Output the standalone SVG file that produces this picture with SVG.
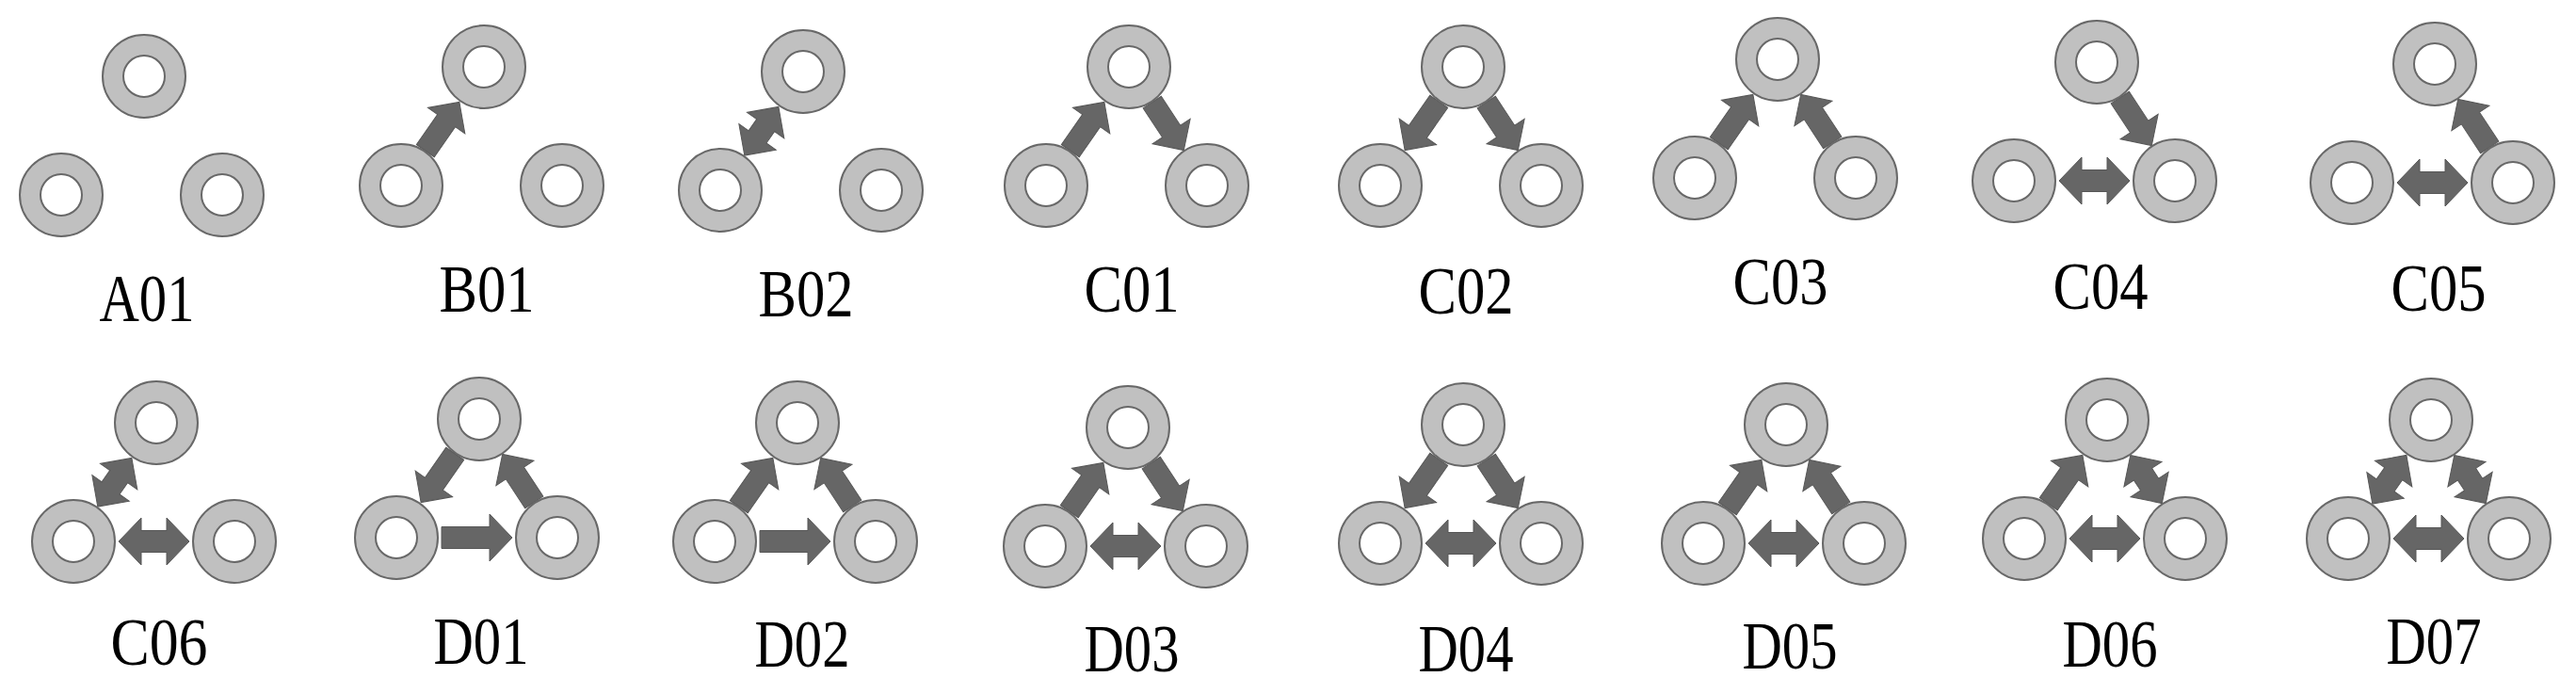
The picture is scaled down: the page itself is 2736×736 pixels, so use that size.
<svg xmlns="http://www.w3.org/2000/svg" xmlns:xlink="http://www.w3.org/1999/xlink" width="2736" height="736" viewBox="0 0 2736 736">
<style>
.outer{fill:#c0c0c0;stroke:#686868;stroke-width:2}
.inner{fill:#ffffff;stroke:#686868;stroke-width:2}
.arr{fill:#666666;stroke:#575757;stroke-width:1}
.lbl{font-family:"Liberation Serif",serif;font-size:72px;fill:#000000;text-anchor:middle}
</style>
<defs>
<g id="ring"><circle r="44" class="outer"/><circle r="22" class="inner"/></g>
<path id="sL" class="arr" d="M0,-11.5H39V-24L63,0L39,24V11.5H0Z"/>
<path id="dL" class="arr" d="M0,0L24,-24V-11.5H39V-24L63,0L39,24V11.5H24V24Z"/>
<path id="sR" class="arr" d="M0,-11.5H37V-24L61,0L37,24V11.5H0Z"/>
<path id="dR" class="arr" d="M0,0L24,-24V-11.5H37V-24L61,0L37,24V11.5H24V24Z"/>
<path id="sH" class="arr" d="M0,-11.5H51V-25L75,0L51,25V11.5H0Z"/>
<path id="dH" class="arr" d="M0,0L24,-25V-11.5H51V-25L75,0L51,25V11.5H24V25Z"/>
</defs>
<rect width="2736" height="736" fill="#ffffff"/>
<g id="connectors">
<g id="B01-edges" transform="translate(514,71)"><use href="#sL" transform="translate(-62.2,89.1) rotate(-55.07)"/></g>
<g id="B02-edges" transform="translate(853,76)"><use href="#dL" transform="translate(-62.2,89.1) rotate(-55.07)"/></g>
<g id="C01-edges" transform="translate(1199,71)"><use href="#sL" transform="translate(-62.2,89.1) rotate(-55.07)"/><use href="#sR" transform="translate(24.75,37.6) rotate(56.63)"/></g>
<g id="C02-edges" transform="translate(1554,71)"><use href="#sL" transform="translate(-25.8,36.9) rotate(124.93)"/><use href="#sR" transform="translate(24.75,37.6) rotate(56.63)"/></g>
<g id="C03-edges" transform="translate(1888,63)"><use href="#sL" transform="translate(-62.2,89.1) rotate(-55.07)"/><use href="#sR" transform="translate(58.25,88.4) rotate(-123.37)"/></g>
<g id="C04-edges" transform="translate(2227,66)"><use href="#sR" transform="translate(24.75,37.6) rotate(56.63)"/><use href="#dH" transform="translate(-40,126)"/></g>
<g id="C05-edges" transform="translate(2586,68)"><use href="#sR" transform="translate(58.25,88.4) rotate(-123.37)"/><use href="#dH" transform="translate(-40,126)"/></g>
<g id="C06-edges" transform="translate(166,449)"><use href="#dL" transform="translate(-62.2,89.1) rotate(-55.07)"/><use href="#dH" transform="translate(-40,126)"/></g>
<g id="D01-edges" transform="translate(509,445)"><use href="#sL" transform="translate(-25.8,36.9) rotate(124.93)"/><use href="#sR" transform="translate(58.25,88.4) rotate(-123.37)"/><use href="#sH" transform="translate(-40,126)"/></g>
<g id="D02-edges" transform="translate(847,449)"><use href="#sL" transform="translate(-62.2,89.1) rotate(-55.07)"/><use href="#sR" transform="translate(58.25,88.4) rotate(-123.37)"/><use href="#sH" transform="translate(-40,126)"/></g>
<g id="D03-edges" transform="translate(1198,454)"><use href="#sL" transform="translate(-62.2,89.1) rotate(-55.07)"/><use href="#sR" transform="translate(24.75,37.6) rotate(56.63)"/><use href="#dH" transform="translate(-40,126)"/></g>
<g id="D04-edges" transform="translate(1554,451)"><use href="#sL" transform="translate(-25.8,36.9) rotate(124.93)"/><use href="#sR" transform="translate(24.75,37.6) rotate(56.63)"/><use href="#dH" transform="translate(-40,126)"/></g>
<g id="D05-edges" transform="translate(1897,451)"><use href="#sL" transform="translate(-62.2,89.1) rotate(-55.07)"/><use href="#sR" transform="translate(58.25,88.4) rotate(-123.37)"/><use href="#dH" transform="translate(-40,126)"/></g>
<g id="D06-edges" transform="translate(2238,446)"><use href="#sL" transform="translate(-62.2,89.1) rotate(-55.07)"/><use href="#dR" transform="translate(24.75,37.6) rotate(56.63)"/><use href="#dH" transform="translate(-40,126)"/></g>
<g id="D07-edges" transform="translate(2582,446)"><use href="#dL" transform="translate(-62.2,89.1) rotate(-55.07)"/><use href="#dR" transform="translate(24.75,37.6) rotate(56.63)"/><use href="#dH" transform="translate(-40,126)"/></g>
</g>
<g id="A01" transform="translate(153,81)"><g id="A01-top"><use href="#ring"/></g><g id="A01-left"><use href="#ring" x="-88" y="126"/></g><g id="A01-right"><use href="#ring" x="83" y="126"/></g><text class="lbl" x="3" y="260" textLength="101" lengthAdjust="spacingAndGlyphs">A01</text></g>
<g id="B01" transform="translate(514,71)"><g id="B01-top"><use href="#ring"/></g><g id="B01-left"><use href="#ring" x="-88" y="126"/></g><g id="B01-right"><use href="#ring" x="83" y="126"/></g><text class="lbl" x="3" y="260" textLength="101" lengthAdjust="spacingAndGlyphs">B01</text></g>
<g id="B02" transform="translate(853,76)"><g id="B02-top"><use href="#ring"/></g><g id="B02-left"><use href="#ring" x="-88" y="126"/></g><g id="B02-right"><use href="#ring" x="83" y="126"/></g><text class="lbl" x="3" y="260" textLength="101" lengthAdjust="spacingAndGlyphs">B02</text></g>
<g id="C01" transform="translate(1199,71)"><g id="C01-top"><use href="#ring"/></g><g id="C01-left"><use href="#ring" x="-88" y="126"/></g><g id="C01-right"><use href="#ring" x="83" y="126"/></g><text class="lbl" x="3" y="260" textLength="101" lengthAdjust="spacingAndGlyphs">C01</text></g>
<g id="C02" transform="translate(1554,71)"><g id="C02-top"><use href="#ring"/></g><g id="C02-left"><use href="#ring" x="-88" y="126"/></g><g id="C02-right"><use href="#ring" x="83" y="126"/></g><text class="lbl" x="3" y="262" textLength="101" lengthAdjust="spacingAndGlyphs">C02</text></g>
<g id="C03" transform="translate(1888,63)"><g id="C03-top"><use href="#ring"/></g><g id="C03-left"><use href="#ring" x="-88" y="126"/></g><g id="C03-right"><use href="#ring" x="83" y="126"/></g><text class="lbl" x="3" y="260" textLength="101" lengthAdjust="spacingAndGlyphs">C03</text></g>
<g id="C04" transform="translate(2227,66)"><g id="C04-top"><use href="#ring"/></g><g id="C04-left"><use href="#ring" x="-88" y="126"/></g><g id="C04-right"><use href="#ring" x="83" y="126"/></g><text class="lbl" x="4" y="262" textLength="101" lengthAdjust="spacingAndGlyphs">C04</text></g>
<g id="C05" transform="translate(2586,68)"><g id="C05-top"><use href="#ring"/></g><g id="C05-left"><use href="#ring" x="-88" y="126"/></g><g id="C05-right"><use href="#ring" x="83" y="126"/></g><text class="lbl" x="4" y="262" textLength="101" lengthAdjust="spacingAndGlyphs">C05</text></g>
<g id="C06" transform="translate(166,449)"><g id="C06-top"><use href="#ring"/></g><g id="C06-left"><use href="#ring" x="-88" y="126"/></g><g id="C06-right"><use href="#ring" x="83" y="126"/></g><text class="lbl" x="3" y="257" textLength="103" lengthAdjust="spacingAndGlyphs">C06</text></g>
<g id="D01" transform="translate(509,445)"><g id="D01-top"><use href="#ring"/></g><g id="D01-left"><use href="#ring" x="-88" y="126"/></g><g id="D01-right"><use href="#ring" x="83" y="126"/></g><text class="lbl" x="2" y="260" textLength="101" lengthAdjust="spacingAndGlyphs">D01</text></g>
<g id="D02" transform="translate(847,449)"><g id="D02-top"><use href="#ring"/></g><g id="D02-left"><use href="#ring" x="-88" y="126"/></g><g id="D02-right"><use href="#ring" x="83" y="126"/></g><text class="lbl" x="5" y="259" textLength="101" lengthAdjust="spacingAndGlyphs">D02</text></g>
<g id="D03" transform="translate(1198,454)"><g id="D03-top"><use href="#ring"/></g><g id="D03-left"><use href="#ring" x="-88" y="126"/></g><g id="D03-right"><use href="#ring" x="83" y="126"/></g><text class="lbl" x="4" y="259" textLength="101" lengthAdjust="spacingAndGlyphs">D03</text></g>
<g id="D04" transform="translate(1554,451)"><g id="D04-top"><use href="#ring"/></g><g id="D04-left"><use href="#ring" x="-88" y="126"/></g><g id="D04-right"><use href="#ring" x="83" y="126"/></g><text class="lbl" x="3" y="262" textLength="101" lengthAdjust="spacingAndGlyphs">D04</text></g>
<g id="D05" transform="translate(1897,451)"><g id="D05-top"><use href="#ring"/></g><g id="D05-left"><use href="#ring" x="-88" y="126"/></g><g id="D05-right"><use href="#ring" x="83" y="126"/></g><text class="lbl" x="4" y="259" textLength="101" lengthAdjust="spacingAndGlyphs">D05</text></g>
<g id="D06" transform="translate(2238,446)"><g id="D06-top"><use href="#ring"/></g><g id="D06-left"><use href="#ring" x="-88" y="126"/></g><g id="D06-right"><use href="#ring" x="83" y="126"/></g><text class="lbl" x="3" y="262" textLength="101" lengthAdjust="spacingAndGlyphs">D06</text></g>
<g id="D07" transform="translate(2582,446)"><g id="D07-top"><use href="#ring"/></g><g id="D07-left"><use href="#ring" x="-88" y="126"/></g><g id="D07-right"><use href="#ring" x="83" y="126"/></g><text class="lbl" x="3" y="259" textLength="101" lengthAdjust="spacingAndGlyphs">D07</text></g>
</svg>
